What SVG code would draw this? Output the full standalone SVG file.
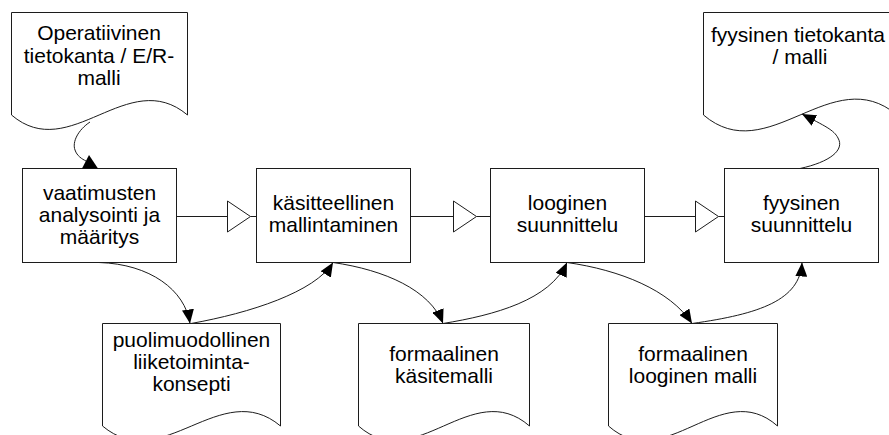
<svg xmlns="http://www.w3.org/2000/svg" width="889" height="435" viewBox="0 0 889 435">
  <style>
    .shape { fill: #ffffff; stroke: #1c1c1c; stroke-width: 1; }
    .conn { fill: none; stroke: #1c1c1c; stroke-width: 1; }
    .open { fill: #ffffff; stroke: #1c1c1c; stroke-width: 1; }
    .head { fill: #000000; stroke: none; }
    text { font-family: "Liberation Sans", Arial, sans-serif; font-size: 21px; fill: #000000; text-anchor: middle; }
  </style>
  <defs>
    <marker id="arrow" markerUnits="userSpaceOnUse" markerWidth="14" markerHeight="12" viewBox="0 0 14 12" refX="14" refY="6" orient="auto">
      <path d="M0,0 L14,6 L0,12 z" class="head"/>
    </marker>
  </defs>

  <!-- documents -->
  <g id="doc-operatiivinen">
    <path class="shape" d="M11.5,12.5 H187.5 V115 C128,65 70,165 11.5,115 Z"/>
    <text x="99" y="40">Operatiivinen</text>
    <text x="99" y="62.5">tietokanta / E/R-</text>
    <text x="99" y="85">malli</text>
  </g>

  <g id="doc-fyysinen">
    <path class="shape" d="M703.5,12.5 H897 V115 C832,60 768,170 703.5,115 Z"/>
    <text x="798" y="41.5">fyysinen tietokanta</text>
    <text x="800" y="64">/ malli</text>
  </g>

  <g id="doc-puolimuodollinen">
    <path class="shape" d="M102.5,323.5 H280.5 V426 C221,376 162,476 102.5,426 Z"/>
    <text x="191.5" y="347">puolimuodollinen</text>
    <text x="191.5" y="369">liiketoiminta-</text>
    <text x="191.5" y="391">konsepti</text>
  </g>

  <g id="doc-formaalinen-kasite">
    <path class="shape" d="M358.5,323.5 H529.5 V426 C472,376 415,476 358.5,426 Z"/>
    <text x="444" y="361">formaalinen</text>
    <text x="444" y="383">käsitemalli</text>
  </g>

  <g id="doc-formaalinen-looginen">
    <path class="shape" d="M608.5,323.5 H777.5 V426 C721,376 665,476 608.5,426 Z"/>
    <text x="693" y="361">formaalinen</text>
    <text x="693" y="383">looginen malli</text>
  </g>

  <!-- process steps -->
  <g id="step-vaatimukset">
    <rect class="shape" x="22.5" y="168.5" width="154" height="94"/>
    <text x="99.5" y="200">vaatimusten</text>
    <text x="99.5" y="222">analysointi ja</text>
    <text x="99.5" y="244">määritys</text>
  </g>

  <g id="step-kasitteellinen">
    <rect class="shape" x="256.5" y="168.5" width="154" height="94"/>
    <text x="333.5" y="210">käsitteellinen</text>
    <text x="333.5" y="232">mallintaminen</text>
  </g>

  <g id="step-looginen">
    <rect class="shape" x="490.5" y="168.5" width="154" height="94"/>
    <text x="567.5" y="210">looginen</text>
    <text x="567.5" y="232">suunnittelu</text>
  </g>

  <g id="step-fyysinen">
    <rect class="shape" x="724.5" y="168.5" width="154" height="94"/>
    <text x="801.5" y="210">fyysinen</text>
    <text x="801.5" y="232">suunnittelu</text>
  </g>

  <!-- connectors -->
  <g id="connectors">
    <!-- main flow with open arrowheads -->
    <path class="conn" d="M176.5,216.5 H227.5 M250.5,216.5 H256.5"/>
    <polygon class="open" points="227.5,201 250.5,216.5 227.5,232"/>
    <path class="conn" d="M410.5,216.5 H453.5 M476.5,216.5 H490.5"/>
    <polygon class="open" points="453.5,201 476.5,216.5 453.5,232"/>
    <path class="conn" d="M644.5,216.5 H695.5 M718.5,216.5 H724.5"/>
    <polygon class="open" points="695.5,201 718.5,216.5 695.5,232"/>

    <!-- input document to first step -->
    <path class="conn" d="M90,122 C78,130 72,142 75,150 C77,156 82,159 86,161"/>
    <polygon class="head" points="82,168.5 98,168.5 89,155"/>

    <!-- last step to output document -->
    <path class="conn" marker-end="url(#arrow)" d="M800,168.5 C830,162 845,150 838,138 C834,130 825,126 802,114"/>

    <!-- steps to intermediate documents and back -->
    <path class="conn" marker-end="url(#arrow)" d="M99,262.5 C150,264 185,290 190,323.5"/>
    <path class="conn" marker-end="url(#arrow)" d="M191,323.5 C250,313 315,292 333,262.5"/>
    <path class="conn" marker-end="url(#arrow)" d="M333,262.5 C385,270 430,290 443,323.5"/>
    <path class="conn" marker-end="url(#arrow)" d="M443,323.5 C495,315 550,300 567,262.5"/>
    <path class="conn" marker-end="url(#arrow)" d="M567,262.5 C620,270 670,290 692,323.5"/>
    <path class="conn" marker-end="url(#arrow)" d="M692,323.5 C760,314 800,300 802,262.5"/>
  </g>
</svg>
